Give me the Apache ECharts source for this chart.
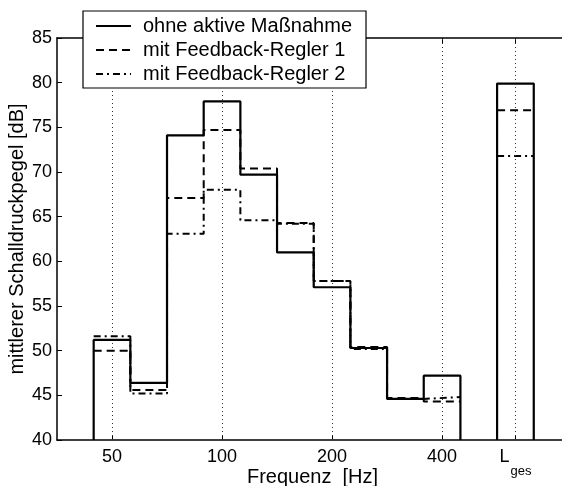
<!DOCTYPE html>
<html>
<head>
<meta charset="utf-8">
<script src="https://cdn.jsdelivr.net/npm/echarts@6/dist/echarts.min.js"></script>
<style>
  html, body { margin: 0; padding: 0; background: #fff; }
  #main { width: 562px; height: 486px; }
</style>
</head>
<body>
<div id="main"></div>
<script>
// Terzbaender 50..400 Hz, dann Gesamtpegel
var bands = ['50', '63', '80', '100', '125', '160', '200', '250', '315', '400'];
var ohne = [51.2, 46.4, 74.1, 77.9, 69.7, 61.0, 57.1, 50.3, 44.6, 47.2];
var regler1 = [50.0, 45.6, 67.1, 74.7, 70.4, 64.3, 57.8, 50.4, 44.7, 44.3];
var regler2 = [51.6, 45.2, 63.1, 68.0, 64.6, 64.2, 57.8, 50.2, 44.6, 44.8];
var lges = { ohne: 79.9, regler1: 76.9, regler2: 71.8 };
var lgesPos = 11;               // Lges sitzt eine Terz hinter 400 Hz (Luecke bei 500)
var tickPos = [0, 3, 6, 9, lgesPos];
var tickText = ['50', '100', '200', '400', '{L|L}{g|ges}'];

var names = ['ohne aktive Maßnahme', 'mit Feedback-Regler 1', 'mit Feedback-Regler 2'];
var yMin = 40;
var font = 'Liberation Sans, Arial, Helvetica, sans-serif';

// Treppenkurve aus Bandwerten bauen
function steps(vals, total, drop) {
    var pts = [];
    if (drop) pts.push([-0.5, yMin]);
    for (var i = 0; i < vals.length; i++) {
        pts.push([i - 0.5, vals[i]]);
        pts.push([i + 0.5, vals[i]]);
    }
    if (drop) pts.push([vals.length - 0.5, yMin]);
    pts.push(['-', '-']);
    if (drop) pts.push([lgesPos - 0.5, yMin]);
    pts.push([lgesPos - 0.5, total]);
    pts.push([lgesPos + 0.5, total]);
    if (drop) pts.push([lgesPos + 0.5, yMin]);
    return pts;
}

var chart = echarts.init(document.getElementById('main'));
var option = {
    animation: false,
    backgroundColor: '#fff',
    textStyle: { fontFamily: font, color: '#000' },
    grid: { left: 57, top: 38, right: 0, bottom: 46, containLabel: false, outerBoundsMode: 'none' },
    legend: {
        data: names,
        orient: 'vertical',
        left: 83,
        top: 11,
        padding: [5, 14, 4, 12],
        itemGap: 4,
        itemWidth: 35,
        itemHeight: 14,
        backgroundColor: '#fff',
        borderColor: '#000',
        borderWidth: 1.2,
        borderRadius: 0,
        itemStyle: { color: 'rgba(0,0,0,0)', borderWidth: 0 },
        textStyle: { fontSize: 20, color: '#000', fontFamily: font, padding: [0, 0, 0, 7] },
        z: 10
    },
    xAxis: [{
        type: 'value',
        min: -1.5,
        max: 12.27,
        name: 'Frequenz  [Hz]',
        nameLocation: 'middle',
        nameGap: 27,
        nameMoveOverlap: false,
        nameTextStyle: { fontSize: 20, color: '#000', fontFamily: font, padding: [0, 0, 0, 6] },
        axisLine: { onZero: false, lineStyle: { color: '#000', width: 1.5 } },
        axisTick: { inside: true, length: 5, customValues: tickPos, lineStyle: { color: '#000' } },
        axisLabel: {
            customValues: tickPos,
            margin: 8,
            fontSize: 18,
            color: '#000',
            fontFamily: font,
            formatter: function (v) {
                var k = tickPos.indexOf(v);
                return k >= 0 ? tickText[k] : '';
            },
            rich: {
                L: { fontSize: 18, color: '#000', fontFamily: font, verticalAlign: 'top' },
                g: { fontSize: 13, color: '#000', fontFamily: font, verticalAlign: 'bottom', padding: [17, 0, 0, 1] }
            }
        },
        splitLine: { show: false }
    }, {
        type: 'value',
        position: 'top',
        min: -1.5,
        max: 12.27,
        axisLine: { show: true, onZero: false, lineStyle: { color: '#000', width: 1.5 } },
        axisTick: { inside: true, length: 5, customValues: tickPos, lineStyle: { color: '#000' } },
        axisLabel: { show: false },
        splitLine: { show: false }
    }],
    yAxis: {
        type: 'value',
        min: 40,
        max: 85,
        interval: 5,
        name: 'mittlerer Schalldruckpegel [dB]',
        nameLocation: 'middle',
        nameGap: 30,
        nameMoveOverlap: false,
        nameTextStyle: { fontSize: 20, color: '#000', fontFamily: font },
        axisLine: { show: true, onZero: false, lineStyle: { color: '#000', width: 1.5 } },
        axisTick: { show: true, inside: true, length: 5, lineStyle: { color: '#000' } },
        axisLabel: { fontSize: 18, color: '#000', margin: 5, fontFamily: font },
        splitLine: { show: false }
    },
    series: [{
        name: 'raster',
        type: 'line',
        data: [],
        z: 1,
        silent: true,
        markLine: {
            silent: true,
            symbol: ['none', 'none'],
            label: { show: false },
            lineStyle: { type: [1, 3], color: '#333', width: 1 },
            data: tickPos.map(function (p) { return { xAxis: p }; })
        }
    }, {
        name: names[2],
        type: 'line',
        showSymbol: false,
        symbol: 'none',
        z: 3,
        lineStyle: { color: '#000', width: 2, type: [7, 4, 2, 4] },
        itemStyle: { color: '#000' },
        data: steps(regler2, lges.regler2, false)
    }, {
        name: names[1],
        type: 'line',
        showSymbol: false,
        symbol: 'none',
        z: 4,
        lineStyle: { color: '#000', width: 2, type: [8, 5] },
        itemStyle: { color: '#000' },
        data: steps(regler1, lges.regler1, false)
    }, {
        name: names[0],
        type: 'line',
        showSymbol: false,
        symbol: 'none',
        z: 5,
        lineStyle: { color: '#000', width: 2.2, type: 'solid' },
        itemStyle: { color: '#000' },
        data: steps(ohne, lges.ohne, true)
    }]
};
chart.setOption(option);
</script>
</body>
</html>
